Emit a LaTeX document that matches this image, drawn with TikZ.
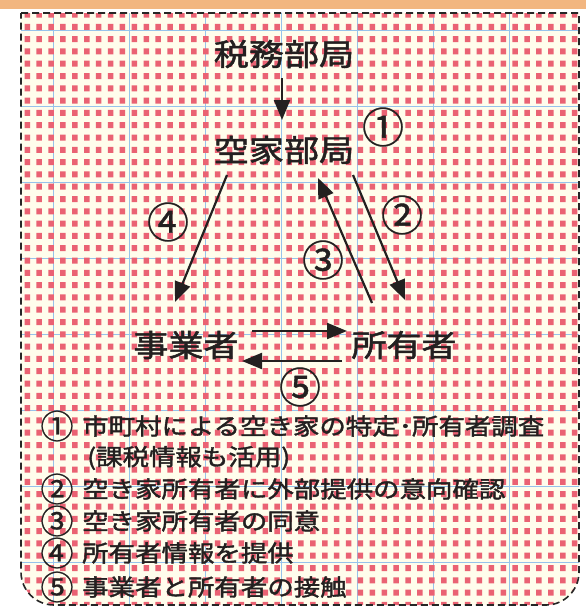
\documentclass[tikz,border=0pt]{standalone}
\usepackage{fontspec}
\newfontfamily\jp[FakeStretch=1.15,FakeBold=1.6]{Noto Sans CJK JP}
\newfontfamily\jpc[FakeBold=0.8]{Noto Sans CJK JP}
\usetikzlibrary{arrows.meta}
\definecolor{sq}{RGB}{234,98,115}
\definecolor{bgc}{RGB}{255,253,236}
\definecolor{bluel}{RGB}{150,195,235}
\definecolor{orangebar}{RGB}{242,182,128}
\definecolor{ink}{RGB}{35,32,32}
\tikzset{
  big/.style={font=\jp\fontsize{30.5}{30.5}\selectfont, text=ink, inner sep=0pt},
  circ/.style={font=\jpc\fontsize{42}{42}\selectfont, text=ink, inner sep=0pt},
  item/.style={font=\jp\fontsize{23}{23}\selectfont, text=ink, inner sep=0pt, anchor=west},
  icirc/.style={font=\jpc\fontsize{33}{33}\selectfont, text=ink, inner sep=0pt},
  arr/.style={-{Triangle[length=20pt,width=16pt]}, line width=2.2pt, draw=ink},
  border/.style={draw=black!85, line width=1.6pt, dash pattern=on 7pt off 4pt},
  blueline/.style={draw=bluel, line width=0.7pt}
}
\newcommand{\framepath}{(21,13) -- (579,13) -- (579,572) arc[start angle=0,end angle=90,radius=33] -- (54,605) arc[start angle=90,end angle=180,radius=33] -- cycle}
\begin{document}
\begin{tikzpicture}[x=1pt,y=-1pt]
\useasboundingbox (0,0) rectangle (586,608);
\fill[white] (0,0) rectangle (586,608);
\fill[orangebar] (0,0) rectangle (586,9);
\begin{scope}
  \clip \framepath;
  \fill[bgc] (0,0) rectangle (586,608);
  \draw[blueline] \foreach \k in {0,...,7} { ({53+76*\k},0) -- ({53+76*\k},608) };
  \draw[blueline] \foreach \k in {0,...,7} { (0,{30+76*\k}) -- (586,{30+76*\k}) };
  \fill[sq] \foreach \i in {0,...,47} { \foreach \j in {0,...,49} { ({24.5+11.9*\i},{11.5+12.3*\j}) rectangle ++(5.5,6) } };
\end{scope}
\draw[border] \framepath;

% main nodes
\node[big] (zei) at (284,54) {税務部局};
\node[big] (kuuka) at (284,150) {空家部局};
\node[big] (jigyo) at (186,345) {事業者};
\node[big] (shoyu) at (404,345) {所有者};
\node[circ] (c1) at (383,127) {①};
\node[circ] (c2) at (402,215) {②};
\node[circ] (c3) at (323,260) {③};
\node[circ] (c4) at (168,222) {④};
\node[circ] (c5) at (300,387) {⑤};

% arrow end points
\coordinate (a0s) at (282,78);  \coordinate (a0e) at (282,120);
\coordinate (a4s) at (227,175); \coordinate (a4e) at (175,302);
\coordinate (a2s) at (353,175); \coordinate (a2e) at (405,300);
\coordinate (a3s) at (372,303); \coordinate (a3e) at (318,178);
\coordinate (a5s) at (252,331); \coordinate (a5e) at (347,331);
\coordinate (a6s) at (342,361); \coordinate (a6e) at (242,361);
\draw[arr] (a0s) -- (a0e);
\draw[arr] (a4s) -- (a4e);
\draw[arr] (a2s) -- (a2e);
\draw[arr] (a3s) -- (a3e);
\draw[arr] (a5s) -- (a5e);
\draw[arr] (a6s) -- (a6e);

% list
\node[icirc] (n1) at (57,426) {①};
\node[item] (t1) at (82,426) {市町村による空き家の特定･所有者調査};
\node[item] (t1b) at (87,458) {(課税情報も活用)};
\node[icirc] (n2) at (57,489) {②};
\node[item] (t2) at (82,489) {空き家所有者に外部提供の意向確認};
\node[icirc] (n3) at (57,521) {③};
\node[item] (t3) at (82,521) {空き家所有者の同意};
\node[icirc] (n4) at (57,553) {④};
\node[item] (t4) at (82,553) {所有者情報を提供};
\node[icirc] (n5) at (57,587) {⑤};
\node[item] (t5) at (82,587) {事業者と所有者の接触};
\end{tikzpicture}
\end{document}
